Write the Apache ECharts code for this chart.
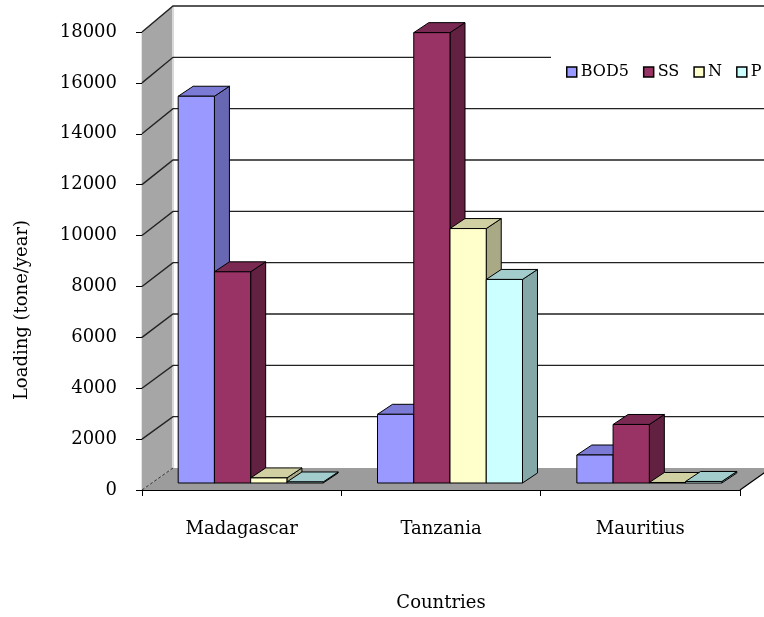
<!DOCTYPE html>
<html>
<head>
<meta charset="utf-8">
<script src="https://cdn.jsdelivr.net/npm/echarts@6/dist/echarts.min.js"></script>
<style>
  html, body { margin: 0; padding: 0; background: #fff; }
  #chart { width: 764px; height: 617px; }
</style>
</head>
<body>
<div id="chart"></div>
<script>
// Annual pollutant loading by country (tone/year)
const categories = ['Madagascar', 'Tanzania', 'Mauritius'];
const seriesNames = ['BOD5', 'SS', 'N', 'P'];
const bod5 = [15200, 2700, 1100];
const ss = [8300, 17700, 2300];
const nitrogen = [200, 10000, 20];
const phosphorus = [40, 8000, 60];
const yMin = 0;
const yMax = 18000;
const yStep = 2000;

// Face shading for the pseudo-3D columns: front, top, side
const frontColors = ['#9999ff', '#993366', '#ffffcc', '#ccffff'];
const topColors = ['#7b7bd6', '#7a2952', '#d0d0a3', '#a3cccc'];
const sideColors = ['#6767b3', '#632142', '#a9a986', '#84a8a8'];

// Projection of the depth axis, in pixels
const WALL_DX = 31;        // left/back wall depth (x)
const WALL_DY_BASE = -22;  // depth rise at the floor
const WALL_DY_TOP = -26;   // depth rise at the top of the wall
const BAR_SHIFT_X = 9;     // column front plane behind the axis plane
const BAR_SHIFT_Y = -7;
const BAR_DX = 15;         // column depth
const BAR_DY = -10;
const GAP_RATIO = 1.5;     // gap width relative to one column

const FONT = '"DejaVu Serif", serif';

const allValues = [bod5, ss, nitrogen, phosphorus];

function backDy(v) {
  return WALL_DY_BASE + (WALL_DY_TOP - WALL_DY_BASE) * ((v - yMin) / (yMax - yMin));
}

// Walls, floor and gridlines of the 3D box
function renderFrame(params, api) {
  const cs = params.coordSys;
  const xl = cs.x;
  const xr = cs.x + cs.width;
  const children = [];
  const yf = v => api.coord([0, v])[1];
  const yb = v => api.coord([0, v])[1] + backDy(v);

  // back wall
  children.push({
    type: 'polygon',
    shape: { points: [[xl + WALL_DX, yb(yMax)], [xr + WALL_DX, yb(yMax)], [xr + WALL_DX, yb(yMin)], [xl + WALL_DX, yb(yMin)]] },
    style: { fill: '#ffffff', stroke: null }
  });
  // side wall
  children.push({
    type: 'polygon',
    shape: { points: [[xl, yf(yMin)], [xl, yf(yMax)], [xl + WALL_DX, yb(yMax)], [xl + WALL_DX, yb(yMin)]] },
    style: { fill: '#a6a6a6', stroke: null }
  });
  children.push({
    type: 'line',
    shape: { x1: xl + WALL_DX, y1: yb(yMax), x2: xl + WALL_DX, y2: yb(yMin) },
    style: { stroke: '#d8d8d8', lineWidth: 2 }
  });
  // gridlines on both walls
  for (let v = yMin + yStep; v <= yMax; v += yStep) {
    children.push({
      type: 'polyline',
      shape: { points: [[xl, yf(v)], [xl + WALL_DX, yb(v)], [xr + WALL_DX + 40, yb(v)]] },
      style: { stroke: '#222', lineWidth: 1.4, fill: null }
    });
  }
  // floor
  children.push({
    type: 'polygon',
    shape: { points: [[xl, yf(yMin)], [xr, yf(yMin)], [xr + WALL_DX, yb(yMin)], [xl + WALL_DX, yb(yMin)]] },
    style: { fill: '#9c9c9c', stroke: null }
  });
  children.push({
    type: 'line',
    shape: { x1: xl, y1: yf(yMin), x2: xl + WALL_DX, y2: yb(yMin) },
    style: { stroke: '#333', lineWidth: 1, lineDash: [3, 2] }
  });
  children.push({
    type: 'line',
    shape: { x1: xr, y1: yf(yMin), x2: xr + WALL_DX, y2: yb(yMin) },
    style: { stroke: '#000', lineWidth: 1.2 }
  });
  return { type: 'group', children: children, silent: true };
}

// One pseudo-3D column: front face, top face and right side face
function makeColumnRenderer(k) {
  const n = seriesNames.length;
  return function (params, api) {
    const ci = api.value(0);
    const v = api.value(1);
    const base = api.coord([ci, yMin]);
    const top = api.coord([ci, v]);
    const band = api.size([1, 0])[0];
    const bw = band / (n + GAP_RATIO);
    const x0 = base[0] - bw * n / 2 + k * bw + BAR_SHIFT_X;
    const x1 = x0 + bw;
    const yB = base[1] + BAR_SHIFT_Y;
    const yT = top[1] + BAR_SHIFT_Y;
    const edge = { stroke: '#000', lineWidth: 1, lineJoin: 'round' };
    return {
      type: 'group',
      children: [
        {
          type: 'polygon',
          shape: { points: [[x1, yT], [x1 + BAR_DX, yT + BAR_DY], [x1 + BAR_DX, yB + BAR_DY], [x1, yB]] },
          style: Object.assign({ fill: sideColors[k] }, edge)
        },
        {
          type: 'polygon',
          shape: { points: [[x0, yT], [x1, yT], [x1 + BAR_DX, yT + BAR_DY], [x0 + BAR_DX, yT + BAR_DY]] },
          style: Object.assign({ fill: topColors[k] }, edge)
        },
        {
          type: 'rect',
          shape: { x: x0, y: yT, width: bw, height: yB - yT },
          style: Object.assign({ fill: frontColors[k] }, edge)
        }
      ]
    };
  };
}

const chart = echarts.init(document.getElementById('chart'), null, { renderer: 'canvas' });

const series = [{
  type: 'custom',
  name: '__frame',
  silent: true,
  z: 1,
  renderItem: renderFrame,
  data: [[0, 0]],
  encode: { x: 0, y: 1 }
}];
seriesNames.forEach(function (name, k) {
  series.push({
    type: 'custom',
    name: name,
    z: 2 + k,
    renderItem: makeColumnRenderer(k),
    itemStyle: { color: frontColors[k] },
    encode: { x: 0, y: 1 },
    data: categories.map(function (c, i) { return [i, allValues[k][i]]; })
  });
});

chart.setOption({
  animation: false,
  backgroundColor: '#ffffff',
  grid: { left: 142, top: 32, width: 598, height: 460, containLabel: false },
  legend: {
    data: seriesNames,
    left: 551,
    top: 52,
    width: 400,
    orient: 'horizontal',
    icon: 'rect',
    itemWidth: 10,
    itemHeight: 10,
    itemGap: 14,
    padding: [12, 30, 12, 15],
    backgroundColor: '#ffffff',
    itemStyle: { borderColor: '#000', borderWidth: 1.5 },
    textStyle: { fontFamily: FONT, fontSize: 16, color: '#000', padding: [0, 0, 0, -1] }
  },
  xAxis: {
    type: 'category',
    data: categories,
    boundaryGap: true,
    axisLine: { show: true, lineStyle: { color: '#000', width: 1.2 } },
    axisTick: { show: true, length: 6, lineStyle: { color: '#000' } },
    axisLabel: { fontFamily: FONT, fontSize: 18, color: '#000', margin: 30 },
    splitLine: { show: false },
    name: 'Countries',
    nameLocation: 'middle',
    nameGap: 104,
    nameTextStyle: { fontFamily: FONT, fontSize: 18, color: '#000' }
  },
  yAxis: {
    type: 'value',
    min: yMin,
    max: yMax,
    interval: yStep,
    axisLine: { show: true, lineStyle: { color: '#000', width: 1.2 } },
    axisTick: { show: true, length: 6, lineStyle: { color: '#000' } },
    axisLabel: {
      fontFamily: FONT, fontSize: 18, color: '#000', margin: 25,
      formatter: function (v) { return String(v); }
    },
    splitLine: { show: false }
  },
  graphic: [{
    type: 'text',
    x: 22,
    y: 310,
    rotation: Math.PI / 2,
    style: {
      text: 'Loading (tone/year)',
      font: '18px ' + FONT,
      fill: '#000',
      align: 'center',
      verticalAlign: 'middle'
    }
  }],
  series: series
});
</script>
</body>
</html>
